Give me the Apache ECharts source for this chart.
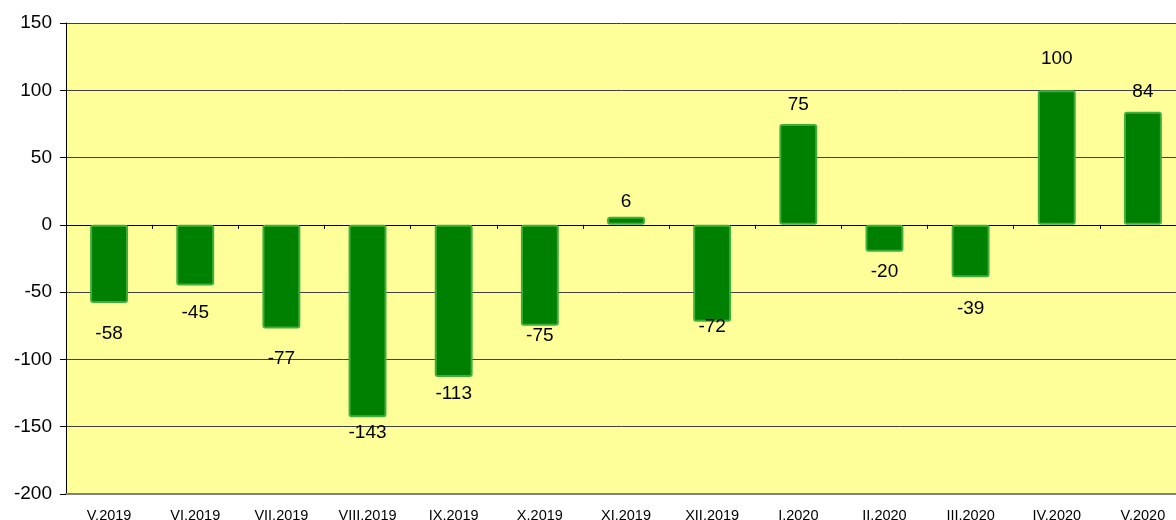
<!DOCTYPE html>
<html>
<head>
<meta charset="UTF-8">
<script src="https://cdn.jsdelivr.net/npm/echarts@6/dist/echarts.min.js"></script>
<style>
  body { margin: 0; background: #fff; }
  #chart { width: 1176px; height: 520px; }
</style>
</head>
<body>
<div id="chart"></div>
<script>
  // months
  const months = ['V.2019', 'VI.2019', 'VII.2019', 'VIII.2019', 'IX.2019', 'X.2019', 'XI.2019',
                  'XII.2019', 'I.2020', 'II.2020', 'III.2020', 'IV.2020', 'V.2020'];
  // monthly change
  const values = [-58, -45, -77, -143, -113, -75, 6, -72, 75, -20, -39, 100, 84];
  // label gap from bar end (pixels), as placed in the original
  const labelGap = [21, 18, 21, 6, 7, 0, 6, -4, 10, 10, 22, 22, 11];

  const chart = echarts.init(document.getElementById('chart'));
  const font = 'Liberation Sans, Arial, sans-serif';

  chart.setOption({
    animation: false,
    // the plot runs a little past the right edge in the original
    grid: {
      left: 66, top: 23, width: 1120, height: 471,
      outerBoundsMode: 'none',
      containLabel: false,
      show: true, backgroundColor: '#FFFF99', borderWidth: 0
    },
    xAxis: [
      {
        type: 'category',
        data: months,
        position: 'bottom',
        axisLine: { onZero: false, lineStyle: { color: '#808080', width: 2 } },
        axisTick: { show: false },
        axisLabel: { color: '#000', fontFamily: font, fontSize: 14.5, margin: 14, interval: 0 }
      },
      {
        type: 'category',
        data: months,
        position: 'bottom',
        axisLine: { onZero: true, lineStyle: { color: '#000', width: 1 } },
        axisTick: { show: true, length: 4, lineStyle: { color: '#000' } },
        axisLabel: { show: false }
      }
    ],
    yAxis: {
      type: 'value',
      min: -200, max: 150, interval: 50,
      axisLine: { show: true, lineStyle: { color: '#000' } },
      axisTick: { show: true, length: 6, lineStyle: { color: '#000' } },
      axisLabel: { color: '#000', fontFamily: font, fontSize: 19, margin: 14 },
      splitLine: { lineStyle: { color: '#404040', width: 1 } }
    },
    series: [{
      type: 'bar',
      xAxisIndex: 0,
      barWidth: '44%',
      itemStyle: { color: '#008000', borderColor: '#3fae3f', borderWidth: 2, borderRadius: 2 },
      data: values.map((v, i) => ({
        value: v,
        label: {
          show: true,
          position: v < 0 ? 'bottom' : 'top',
          distance: labelGap[i],
          color: '#000',
          fontFamily: font,
          fontSize: 19
        }
      }))
    }]
  });
</script>
</body>
</html>
